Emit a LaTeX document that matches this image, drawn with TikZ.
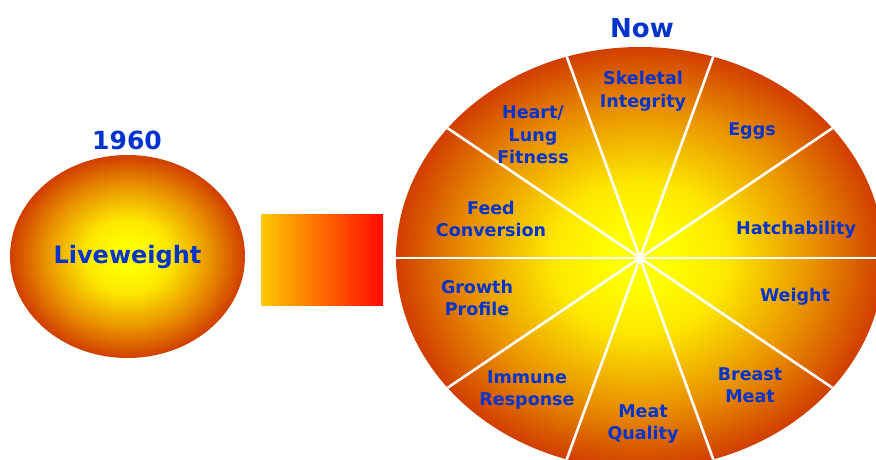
\documentclass[tikz,border=0pt]{standalone}
\usepackage{fontspec}
\setmainfont{DejaVu Sans}
\usetikzlibrary{shapes.geometric}

\definecolor{labelblue}{RGB}{0,51,204}
\definecolor{glowyellow}{RGB}{255,255,0}
\definecolor{glowlight}{RGB}{253,232,0}
\definecolor{gloworange}{RGB}{232,142,0}
\definecolor{glowrim}{RGB}{208,62,0}
\pgfdeclareradialshading{glow}{\pgfpoint{0bp}{0bp}}{%
  color(0bp)=(glowyellow); color(3bp)=(glowyellow); color(9bp)=(glowlight);
  color(18bp)=(gloworange); color(25bp)=(glowrim); color(50bp)=(glowrim)}

\begin{document}
\begin{tikzpicture}[
  x=1pt, y=-1pt,
  blob/.style={ellipse, shade, shading=glow, inner sep=0pt, outer sep=0pt},
  title/.style={font=\bfseries\fontsize{25}{30}\selectfont, text=labelblue},
  trait/.style={align=center, font=\bfseries\fontsize{17.5}{22.5}\selectfont, text=labelblue, inner sep=0pt},
  spoke/.style={white, line width=2.6pt}
]
\useasboundingbox (0,0) rectangle (876,460);
\clip (0,0) rectangle (876,460);

% 1960
\node[blob, minimum width=235pt, minimum height=203pt, title, font=\bfseries\fontsize{24}{30}\selectfont] (then) at (127.5,256.5) {Liveweight};
\node[title] (thenyear) at (127,140) {1960};

% Gradient bar between the two
\node[minimum width=122pt, minimum height=91pt, inner sep=0pt,
  left color={rgb,255:red,254;green,200;blue,0}, middle color={rgb,255:red,255;green,140;blue,0},
  right color={rgb,255:red,255;green,10;blue,0}] (bar) at (322,259.5) {};

% Now
\node[blob, minimum width=488pt, minimum height=422pt] (now) at (640,258) {};
\node[title, font=\bfseries\fontsize{26}{30}\selectfont] (nowyear) at (642,28) {Now};

\foreach \a in {0,34,70,110,146,180,214,250,290,326}
  \draw[spoke] (now.center) -- (now.\a);

% Traits
\node[trait] (skeletal) at (643,91) {Skeletal\\Integrity};
\node[trait] (eggs) at (752,131) {Eggs};
\node[trait] (hatch) at (796,230) {Hatchability};
\node[trait] (weight) at (795,297) {Weight};
\node[trait] (breast) at (750,385) {Breast\\Meat};
\node[trait] (meat) at (643,424) {Meat\\Quality};
\node[trait] (immune) at (527,390) {Immune\\Response};
\node[trait] (growth) at (477,298) {Growth\\Profile};
\node[trait] (feed) at (491,219) {Feed\\Conversion};
\node[trait] (heart) at (533,135) {Heart/\\Lung\\Fitness};

\end{tikzpicture}
\end{document}
